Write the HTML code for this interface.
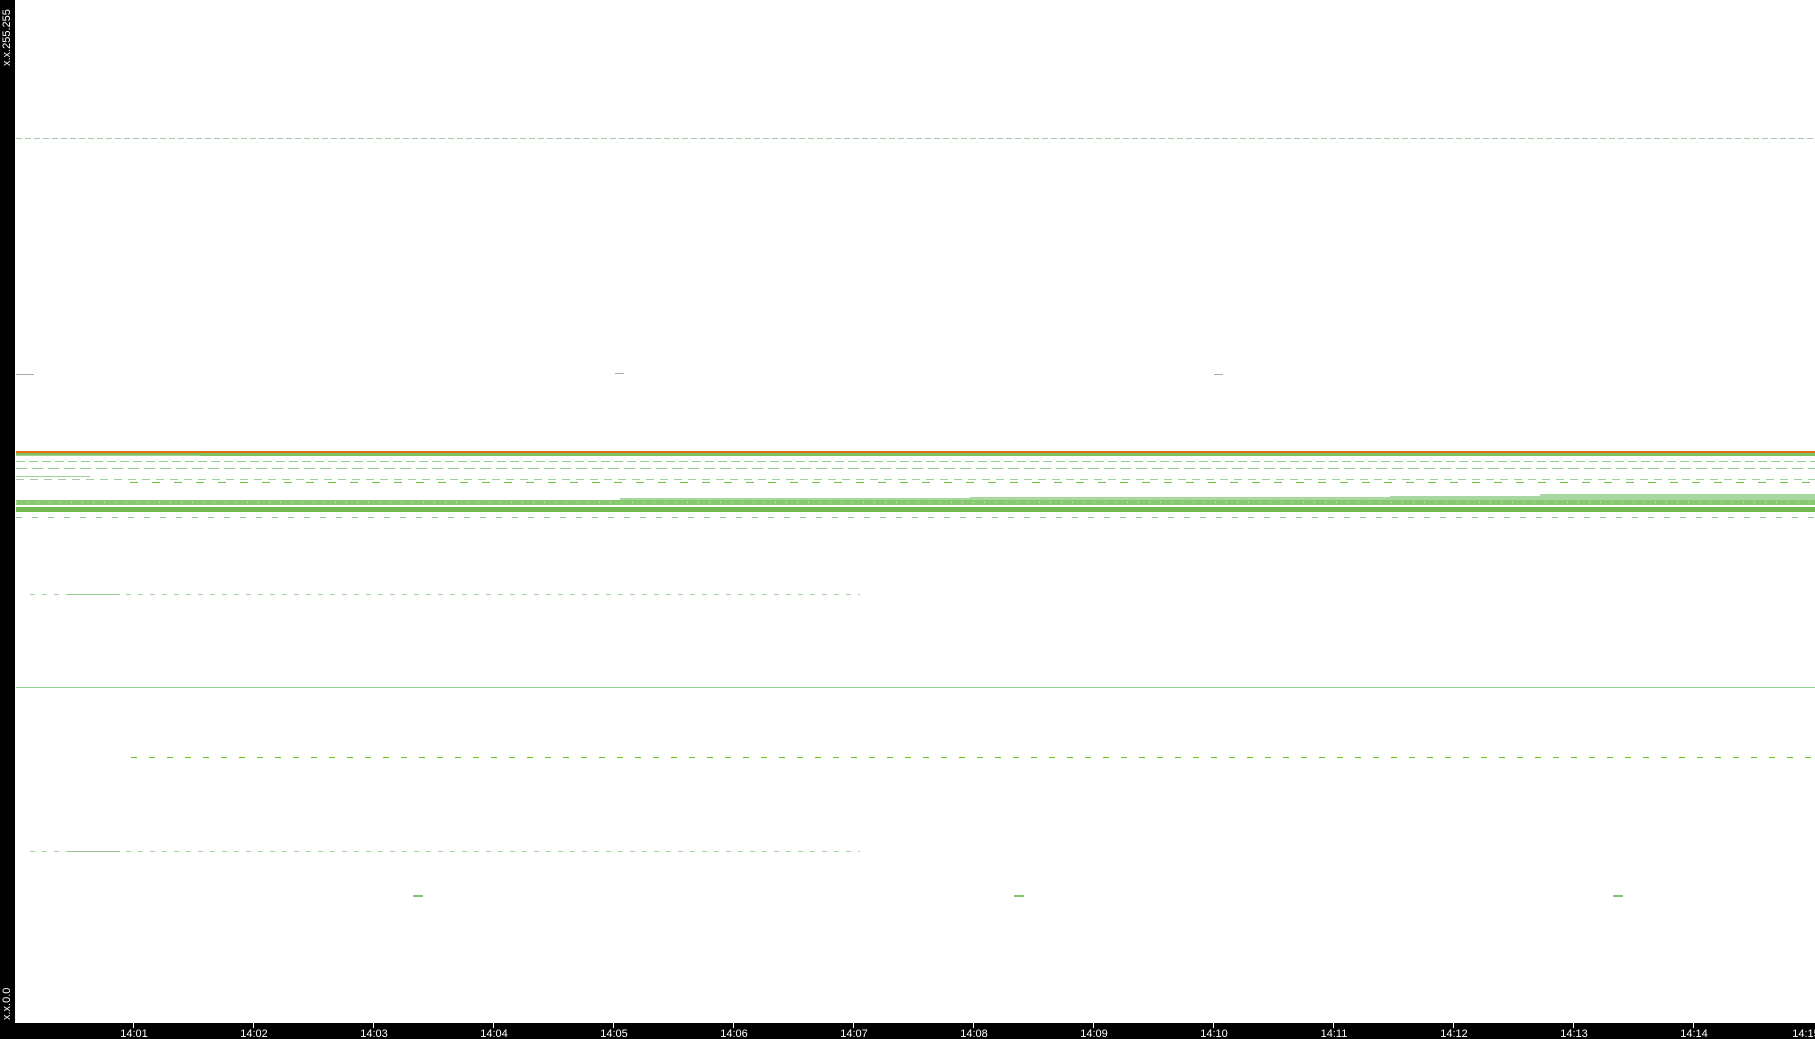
<!DOCTYPE html>
<html><head><style>
html,body{margin:0;padding:0;background:#fff;width:1815px;height:1039px;overflow:hidden}
svg{display:block}
text{font-family:"Liberation Sans",sans-serif;font-size:11px;fill:#fff}
</style></head><body>
<svg width="1815" height="1039" viewBox="0 0 1815 1039">
<rect x="0" y="0" width="1815" height="1039" fill="#fff"/>
<rect x="0" y="0" width="15" height="1039" fill="#000"/>
<rect x="0" y="1023" width="1815" height="16" fill="#000"/>
<text transform="translate(10,66) rotate(-90)">x.x.255.255</text>
<text transform="translate(10,1020) rotate(-90)">x.x.0.0</text>
<g stroke="#fff" stroke-width="1">
<line x1="133.5" y1="1023" x2="133.5" y2="1028"/><line x1="253.5" y1="1023" x2="253.5" y2="1028"/>
<line x1="373.5" y1="1023" x2="373.5" y2="1028"/><line x1="493.5" y1="1023" x2="493.5" y2="1028"/>
<line x1="613.5" y1="1023" x2="613.5" y2="1028"/><line x1="733.5" y1="1023" x2="733.5" y2="1028"/>
<line x1="853.5" y1="1023" x2="853.5" y2="1028"/><line x1="973.5" y1="1023" x2="973.5" y2="1028"/>
<line x1="1093.5" y1="1023" x2="1093.5" y2="1028"/><line x1="1213.5" y1="1023" x2="1213.5" y2="1028"/>
<line x1="1333.5" y1="1023" x2="1333.5" y2="1028"/><line x1="1453.5" y1="1023" x2="1453.5" y2="1028"/>
<line x1="1573.5" y1="1023" x2="1573.5" y2="1028"/><line x1="1693.5" y1="1023" x2="1693.5" y2="1028"/>
</g>
<g text-anchor="middle">
<text x="134" y="1037">14:01</text><text x="254" y="1037">14:02</text><text x="374" y="1037">14:03</text>
<text x="494" y="1037">14:04</text><text x="614" y="1037">14:05</text><text x="734" y="1037">14:06</text>
<text x="854" y="1037">14:07</text><text x="974" y="1037">14:08</text><text x="1094" y="1037">14:09</text>
<text x="1214" y="1037">14:10</text><text x="1334" y="1037">14:11</text><text x="1454" y="1037">14:12</text>
<text x="1574" y="1037">14:13</text><text x="1694" y="1037">14:14</text><text x="1806" y="1037">14:15</text>
</g>
<line x1="16" y1="138.5" x2="1815" y2="138.5" stroke="#a8c8a8" stroke-dasharray="6,3"/>
<rect x="16" y="451" width="1799" height="2" fill="#e0701a"/>
<rect x="16" y="453" width="1799" height="3" fill="#80c060"/>
<rect x="16" y="455" width="184" height="1" fill="#9ccf96"/>
<line x1="16" y1="461.5" x2="1815" y2="461.5" stroke="#8fcf8f" stroke-dasharray="9,4"/>
<line x1="16" y1="468.5" x2="1815" y2="468.5" stroke="#8fcf8f" stroke-dasharray="11,5"/>
<rect x="16" y="476" width="74" height="1" fill="#9ccf96"/>
<line x1="16" y1="479.5" x2="1815" y2="479.5" stroke="#a0d0a0" stroke-dasharray="8,6"/>
<line x1="130" y1="482.5" x2="1815" y2="482.5" stroke="#6cc040" stroke-dasharray="8,14"/>
<polygon points="620,498 970,498 970,497 1390,497 1390,496 1540,496 1540,494 1815,494 1815,500 620,500" fill="#a6d8a0"/>
<rect x="16" y="500" width="1799" height="5" fill="#88c870"/>
<line x1="16" y1="502.5" x2="1815" y2="502.5" stroke="#d8f0d0" stroke-dasharray="1,10"/>
<rect x="16" y="507" width="1799" height="5" fill="#74b850"/>
<line x1="16" y1="517.5" x2="1815" y2="517.5" stroke="#88c888" stroke-dasharray="6,10"/>
<line x1="30" y1="594.5" x2="860" y2="594.5" stroke="#a0d0a0" stroke-dasharray="5,7"/>
<rect x="68" y="594" width="52" height="1" fill="#90c890"/>
<rect x="16" y="687" width="1799" height="1" fill="#90d090"/>
<line x1="131" y1="757.5" x2="1815" y2="757.5" stroke="#60c820" stroke-dasharray="6,12"/>
<line x1="30" y1="851.5" x2="860" y2="851.5" stroke="#a0d0a0" stroke-dasharray="5,7"/>
<rect x="68" y="851" width="52" height="1" fill="#90c890"/>
<rect x="413" y="895" width="10" height="2" fill="#80c870"/>
<rect x="1014" y="895" width="10" height="2" fill="#80c870"/>
<rect x="1613" y="895" width="10" height="2" fill="#80c870"/>
<g fill="#aaa"><rect x="16" y="374" width="18" height="1"/><rect x="615" y="373" width="9" height="1"/><rect x="1214" y="374" width="9" height="1"/></g>
</svg>
</body></html>
